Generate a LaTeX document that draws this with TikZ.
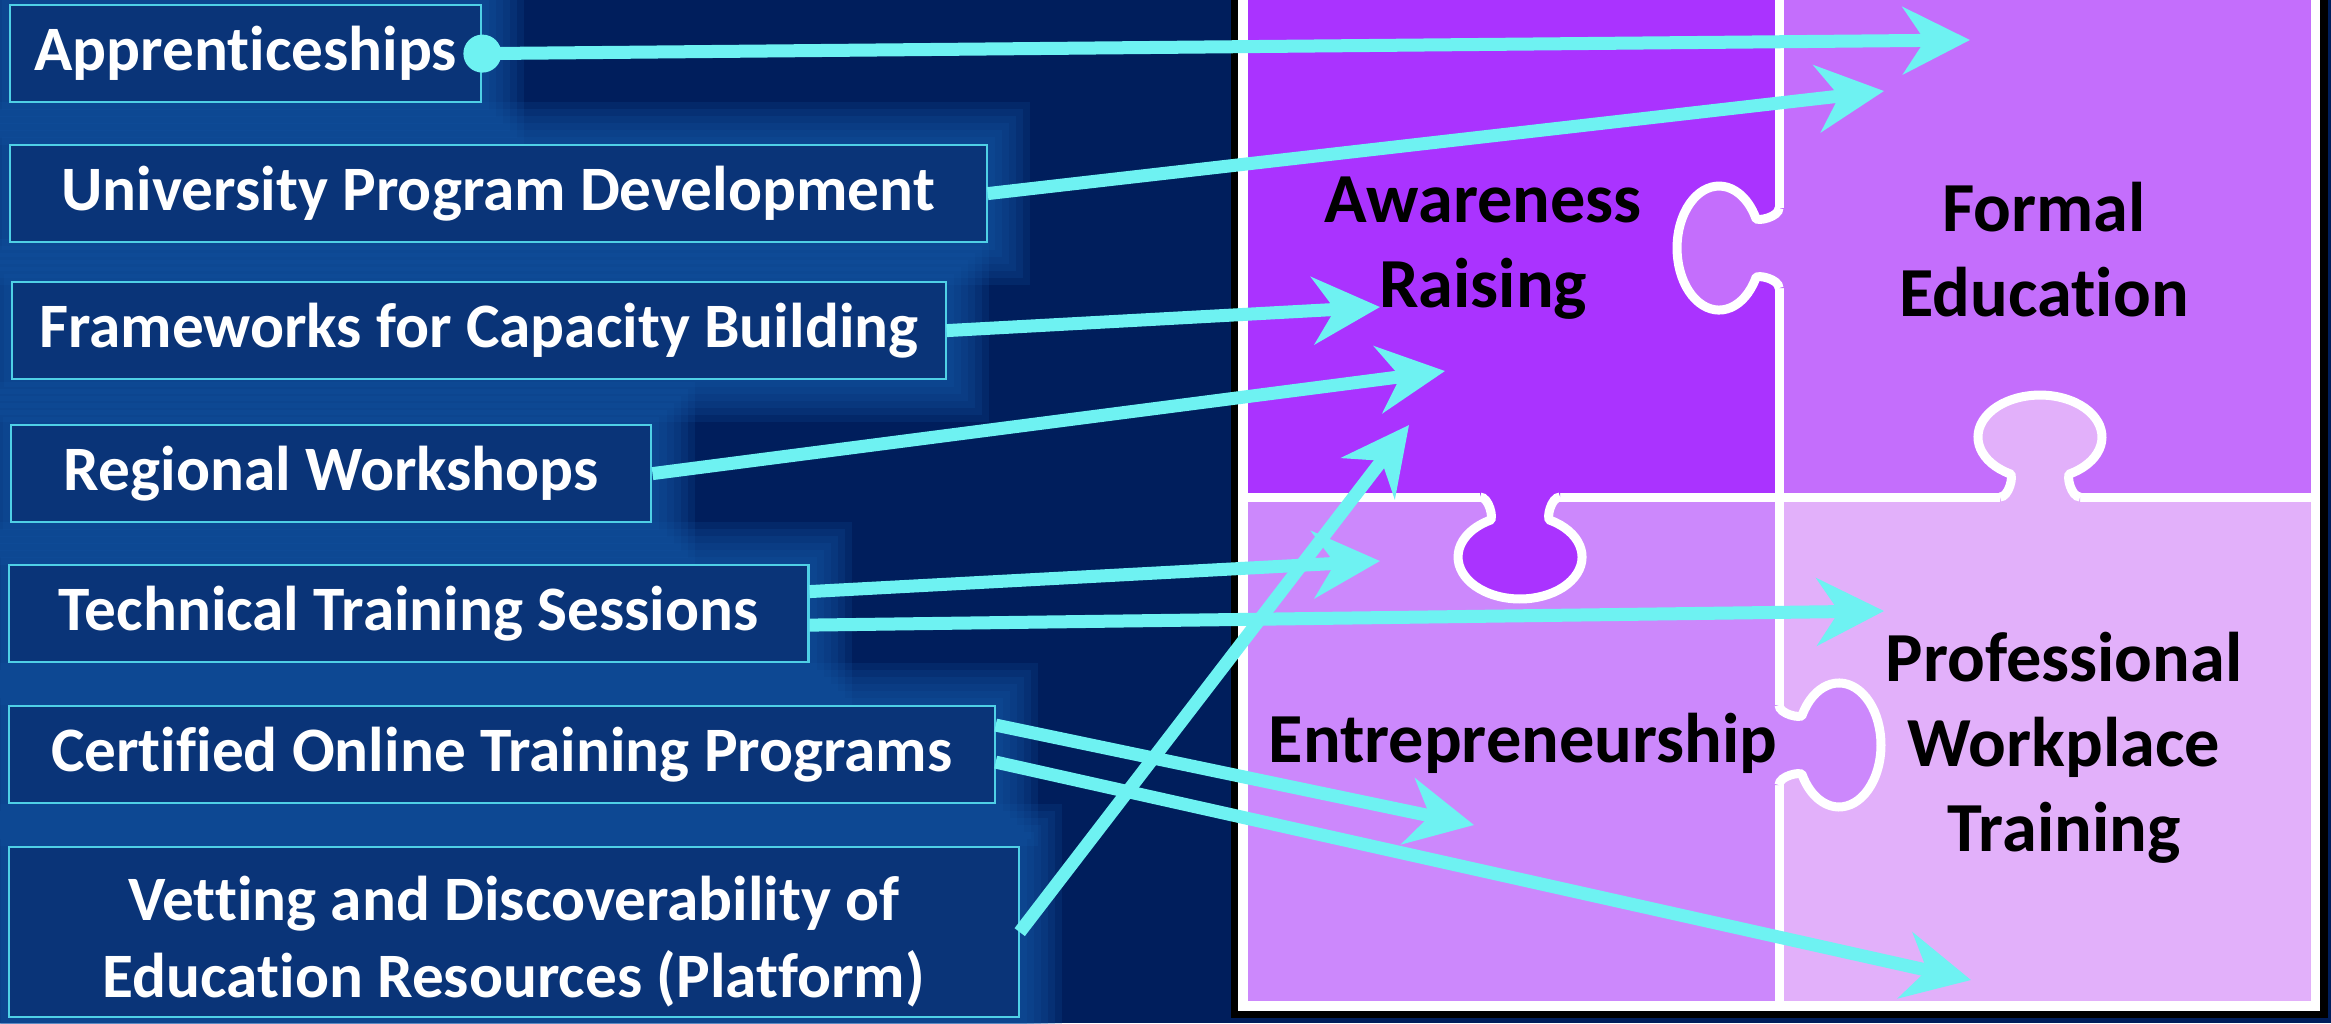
\documentclass[tikz,border=0pt]{standalone}
\usepackage{fontspec}
\setmainfont{Carlito}[Ligatures=NoCommon]
\usetikzlibrary{arrows.meta,backgrounds}

\definecolor{navy}{HTML}{001E5C}
\definecolor{glowblue}{HTML}{1458A8}
\definecolor{boxblue}{HTML}{0A3478}
\definecolor{boxedge}{HTML}{4FD0E6}
\definecolor{cyanline}{HTML}{6EF2F2}
\definecolor{awcol}{HTML}{AA33FF}
\definecolor{focol}{HTML}{C46EFC}
\definecolor{encol}{HTML}{CC88FC}
\definecolor{prcol}{HTML}{E2B0FA}

\begin{document}
\begin{tikzpicture}[x=0.01cm,y=-0.01cm]

\tikzset{
  item/.style={draw=boxedge, line width=0.6pt, fill=boxblue, text=white,
    font=\fontsize{18}{22}\selectfont\bfseries, anchor=north west,
    inner sep=0pt, minimum height=0.97cm},
  one line/.style={item, text height=1.0em, text depth=0.02em},
  piece label/.style={font=\fontsize{20}{24.2}\selectfont\bfseries, align=center, text=black},
  link/.style={cyanline, line width=0.13cm, -{Stealth[length=0.67cm,width=0.67cm,inset=0.22cm]}},
  seam/.style={white, line width=0.09cm},
  knob outline/.style={insert path={%
    (0,-40) .. controls (0,-31) and (21.8,-26) .. (23.2,-30)
    arc[start angle=208.9, end angle=511.1, x radius=42, y radius=62]
    .. controls (21.8,26) and (0,31) .. (0,40)
  }}
}

\useasboundingbox (0,0) rectangle (2331,1023);

%% Items
\node[one line, minimum width=4.71cm] (appr) at (9,4) {Apprenticeships};
\node[one line, minimum width=9.76cm] (univ) at (9,144) {University Program Development};
\node[one line, minimum width=9.33cm] (frame) at (11,281) {Frameworks for Capacity Building};
\node[one line, minimum width=6.40cm] (regio) at (10,424) {Regional Workshops};
\node[one line, minimum width=7.99cm] (tech) at (8,564) {Technical Training Sessions};
\node[one line, minimum width=9.85cm] (cert) at (8,705) {Certified Online Training Programs};
\node[item, minimum width=10.09cm, minimum height=1.70cm, align=center] (vett) at (8,846)
  {\rule{0pt}{1em}Vetting and Discoverability of\\Education Resources (Platform)};

%% Background and glow
\begin{scope}[on background layer]
  \fill[navy] (0,0) rectangle (2331,1023);
  \foreach \n in {appr,univ,frame,regio,tech,cert,vett}
    \foreach \g in {1,...,6}
      \fill[glowblue,opacity=0.18] ([shift={(-\g*0.07cm,-\g*0.07cm)}]\n.south west)
        rectangle ([shift={(\g*0.07cm,\g*0.07cm)}]\n.north east);
\end{scope}

%% Puzzle frame
\fill[black] (1231,-10) rectangle (2328,1018);
\fill[white] (1238,-10) rectangle (2320,1011);

%% Pieces
\fill[awcol] (1248,-10) rectangle (1779,497);
\fill[focol] (1779,-10) rectangle (2311,497);
\fill[encol] (1248,497) rectangle (1779,1001);
\fill[prcol] (1779,497) rectangle (2311,1001);

\draw[seam] (1779,-10) -- (1779,1001);
\draw[seam] (1248,497) -- (2311,497);

%% Knobs
\foreach \bx/\by/\rot/\kcol in {1520/497/-90/awcol, 1779/248/180/focol, 2040/497/90/prcol, 1779/745/0/encol}{
  \begin{scope}[shift={(\bx,\by)}, rotate=\rot]
    \fill[\kcol, knob outline] -- (-8,40) -- (-8,-40) -- cycle;
    \draw[seam, knob outline];
  \end{scope}
}

%% Piece labels
\node[piece label] (aware) at (1483,248) {Awareness\\Raising};
\node[piece label] (formal) at (2044,250) {Formal\\Education};
\node[piece label, anchor=base] (entre) at (1523,762) {Entrepreneurship};
\node[piece label] (prof) at (2064,748) {Professional\\Workplace\\Training};

%% Arrow ends
\coordinate (formal top) at (1970,40);
\coordinate (formal mid) at (1884,91);
\coordinate (aware a) at (1380,307);
\coordinate (aware b) at (1445,371);
\coordinate (aware c) at (1409,425);
\coordinate (entre a) at (1380,561);
\coordinate (entre b) at (1474,825);
\coordinate (prof a) at (1884,611);
\coordinate (prof b) at (1971,980);

%% Links
\draw[link] (appr.east) -- (formal top);
\fill[cyanline] (appr.east) circle[radius=19];
\draw[link] (univ.east) -- (formal mid);
\draw[link] (frame.east) -- (aware a);
\draw[link] (regio.east) -- (aware b);
\draw[link] ([yshift=0.22cm]tech.east) -- (entre a);
\draw[link] ([yshift=-0.115cm]tech.east) -- (prof a);
\draw[link] ([yshift=0.295cm]cert.east) -- (entre b);
\draw[link] ([yshift=-0.075cm]cert.east) -- (prof b);
\draw[link] (vett.east) -- (aware c);

\end{tikzpicture}
\end{document}
